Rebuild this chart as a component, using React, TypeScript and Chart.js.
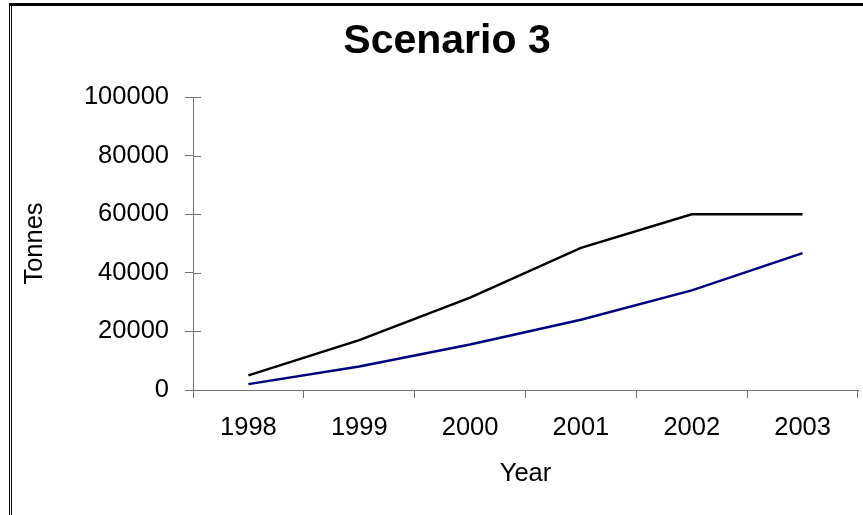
import React, { useEffect, useRef } from "react";
import { Chart, registerables } from "chart.js";

Chart.register(...registerables);

const years = ["1998", "1999", "2000", "2001", "2002", "2003"];
const blackSeries = [5000, 17000, 31500, 48500, 60000, 60000];
const blueSeries = [2000, 8000, 15500, 24000, 34000, 46700];
const yMin = 0;
const yMax = 100000;
const yStep = 20000;

const FONT = "'Liberation Sans', Arial, sans-serif";
const AXIS_GRAY = "#707070";

const framePlugin = {
  id: "frame",
  afterDraw(chart: any) {
    const { ctx, width, height } = chart;
    ctx.save();
    ctx.fillStyle = "#000";
    ctx.fillRect(9, 3, width - 9, 3);
    ctx.fillRect(9, 3, 1, height - 3);
    ctx.fillRect(11, 5, 1, height - 5);
    ctx.restore();
  },
};

const crossTicksPlugin = {
  id: "crossTicks",
  afterDraw(chart: any) {
    const { ctx, chartArea } = chart;
    const y = chart.scales.y;
    ctx.save();
    ctx.strokeStyle = AXIS_GRAY;
    ctx.lineWidth = 1;
    y.ticks.forEach((t: any) => {
      const py = Math.round(y.getPixelForValue(t.value)) + 0.5;
      ctx.beginPath();
      ctx.moveTo(chartArea.left, py);
      ctx.lineTo(chartArea.left + 8, py);
      ctx.stroke();
    });
    ctx.restore();
  },
};

export default function App() {
  const ref = useRef<HTMLCanvasElement | null>(null);

  useEffect(() => {
    if (!ref.current) return;
    const chart = new Chart(ref.current, {
      type: "line",
      data: {
        labels: years,
        datasets: [
          {
            label: "Series 1",
            data: blackSeries,
            borderColor: "#000000",
            backgroundColor: "#000000",
            borderWidth: 2.5,
            pointRadius: 0,
            tension: 0,
          },
          {
            label: "Series 2",
            data: blueSeries,
            borderColor: "#000080",
            backgroundColor: "#000080",
            borderWidth: 2.5,
            pointRadius: 0,
            tension: 0,
          },
        ],
      },
      options: {
        responsive: false,
        animation: false,
        devicePixelRatio: 1,
        layout: { padding: { left: 36, right: 5, top: 0, bottom: 0 } },
        plugins: {
          legend: { display: false },
          tooltip: { enabled: false },
          title: {
            display: true,
            text: "Scenario 3",
            color: "#000",
            font: { family: FONT, size: 41, weight: "bold" },
            padding: { top: 17.4, bottom: 30.4 },
          },
        },
        scales: {
          x: {
            type: "category",
            offset: true,
            afterFit(scale: any) {
              scale.height = 125;
            },
            grid: {
              offset: true,
              drawOnChartArea: false,
              drawTicks: true,
              tickLength: 8,
              color: AXIS_GRAY,
            },
            border: { color: AXIS_GRAY, width: 1 },
            ticks: {
              color: "#000",
              font: { family: FONT, size: 25.5 },
              padding: 15,
              maxRotation: 0,
              autoSkip: false,
            },
            title: {
              display: true,
              text: "Year",
              color: "#000",
              font: { family: FONT, size: 25.5 },
              padding: { top: 0, bottom: 26 },
            },
          },
          y: {
            min: yMin,
            max: yMax,
            afterFit(scale: any) {
              scale.width = 157;
            },
            grid: {
              drawOnChartArea: false,
              drawTicks: true,
              tickLength: 8,
              color: AXIS_GRAY,
            },
            border: { color: AXIS_GRAY, width: 1 },
            ticks: {
              stepSize: yStep,
              color: "#000",
              font: { family: FONT, size: 25.5 },
              padding: 16,
              callback: (v: any) => String(v),
            },
            title: {
              display: true,
              text: "Tonnes",
              color: "#000",
              font: { family: FONT, size: 25.5 },
              padding: { top: -16, bottom: 0 },
            },
          },
        },
      },
      plugins: [framePlugin, crossTicksPlugin],
    });
    return () => chart.destroy();
  }, []);

  return (
    <div style={{ position: "absolute", left: 0, top: 0, width: 863, height: 515 }}>
      <canvas ref={ref} width={863} height={515} />
    </div>
  );
}
